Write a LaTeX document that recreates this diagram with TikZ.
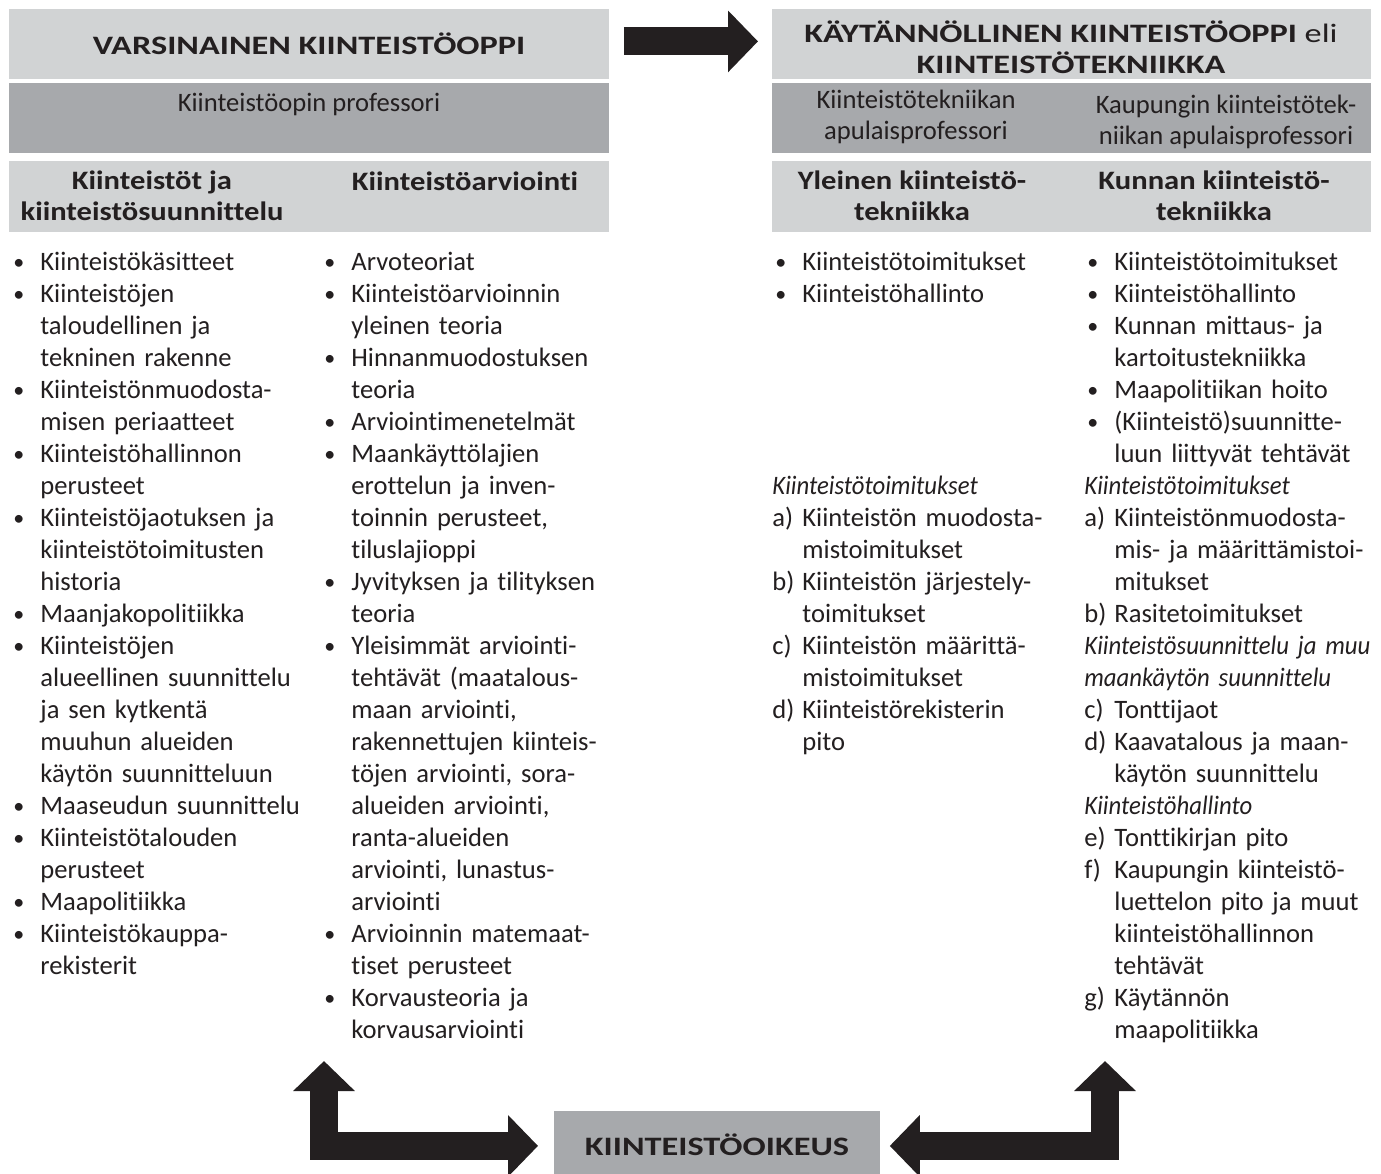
\documentclass[tikz,border=0pt]{standalone}
\usepackage{fontspec}
\setmainfont{Carlito}[Ligatures=NoCommon, BoldFeatures={FakeStretch=1.15}, ItalicFeatures={FakeStretch=0.93}]
\newfontfamily\capsfont{Carlito}[Ligatures=NoCommon, FakeStretch=1.29]
\usetikzlibrary{arrows.meta}
\definecolor{lightg}{HTML}{D1D3D4}
\definecolor{darkg}{HTML}{A7A9AC}
\definecolor{ink}{HTML}{231F20}
\setlength{\parindent}{0pt}
\newcommand{\bul}{\makebox[15pt][l]{\hspace{1.5pt}\raisebox{0.6pt}{\fontsize{11}{11}\selectfont\textbullet}}}
\newcommand{\itm}[1]{\makebox[15pt][l]{#1}}
\newcommand{\ind}{\hspace*{15pt}}
\tikzset{
  band/.style={fill=lightg, inner sep=0pt, anchor=north west},
  pband/.style={fill=darkg, inner sep=0pt, anchor=north west},
  ttl/.style={font=\capsfont\bfseries\fontsize{13.3}{15.5}\selectfont, text=ink, align=center, inner sep=0pt},
  hd/.style={font=\bfseries\fontsize{13.3}{15.5}\selectfont, text=ink, align=center, inner sep=0pt},
  lbl/.style={font=\fontsize{13.3}{15.5}\selectfont, text=ink, align=center, inner sep=0pt},
  col/.style={font=\fontsize{13.3}{16}\selectfont, text=ink, anchor=north west, inner sep=0pt,
              align=left, text width=180pt},
  fat/.style={draw=ink, line width=14pt, -{Triangle[length=15pt, width=30pt]}},
  fatboth/.style={fat, {Triangle[length=15pt, width=30pt]}-{Triangle[length=15pt, width=30pt]}},
}

\begin{document}
\begin{tikzpicture}[x=0.5pt, y=-0.5pt]
\path[fill=white] (0,0) rectangle (1381,1173);
\useasboundingbox (0,0) rectangle (1381,1173);

% ---------------- varsinainen kiinteistöoppi ----------------
\node[band, minimum width=300pt, minimum height=35pt] (varh) at (9,9) {};
\node[ttl] (vart) at (309,44) {VARSINAINEN KIINTEISTÖOPPI};
\node[pband, minimum width=300pt, minimum height=35pt] (proL) at (9,83) {};
\node[lbl] (proLt) at (309,104) {Kiinteistöopin professori};
\node[band, minimum width=300pt, minimum height=35.5pt] (subL) at (9,161) {};
\node[hd] (subLa) at (152,196) {Kiinteistöt ja\\kiinteistösuunnittelu};
\node[hd] (subLb) at (465,181) {Kiinteistöarviointi};

% ---------------- käytännöllinen kiinteistöoppi ----------------
\node[band, minimum width=299.5pt, minimum height=35pt] (kayh) at (772,9) {};
\node[ttl] (kayt) at (1071,47) {KÄYTÄNNÖLLINEN KIINTEISTÖOPPI {\mdseries eli}\\KIINTEISTÖTEKNIIKKA};
\node[pband, minimum width=299.5pt, minimum height=35pt] (proR) at (772,83) {};
\node[lbl] (proRa) at (916,117) {Kiinteistötekniikan\\apulaisprofessori};
\node[lbl] (proRb) at (1226,122) {Kaupungin kiinteistötek-\\niikan apulaisprofessori};
\node[band, minimum width=299.5pt, minimum height=35.5pt] (subR) at (772,161) {};
\node[hd] (subRa) at (912,196) {Yleinen kiinteistö-\\tekniikka};
\node[hd] (subRb) at (1214,196) {Kunnan kiinteistö-\\tekniikka};

\draw[fat, shorten <=7pt, shorten >=7pt] ([yshift=1.5pt]varh.east) -- ([yshift=1.5pt]kayh.west);

% ---------------- columns ----------------
\node[col] (colA) at (10,247.6) {\strut\bul Kiinteistökäsitteet\\
\bul Kiinteistöjen\\
\ind taloudellinen ja\\
\ind tekninen rakenne\\
\bul Kiinteistönmuodosta-\\
\ind misen periaatteet\\
\bul Kiinteistöhallinnon\\
\ind perusteet\\
\bul Kiinteistöjaotuksen ja\\
\ind kiinteistötoimitusten\\
\ind historia\\
\bul Maanjakopolitiikka\\
\bul Kiinteistöjen\\
\ind alueellinen suunnittelu\\
\ind ja sen kytkentä\\
\ind muuhun alueiden\\
\ind käytön suunnitteluun\\
\bul Maaseudun suunnittelu\\
\bul Kiinteistötalouden\\
\ind perusteet\\
\bul Maapolitiikka\\
\bul Kiinteistökauppa-\\
\ind rekisterit};

\node[col] (colB) at (321,247.6) {\strut\bul Arvoteoriat\\
\bul Kiinteistöarvioinnin\\
\ind yleinen teoria\\
\bul Hinnanmuodostuksen\\
\ind teoria\\
\bul Arviointimenetelmät\\
\bul Maankäyttölajien\\
\ind erottelun ja inven-\\
\ind toinnin perusteet,\\
\ind tiluslajioppi\\
\bul Jyvityksen ja tilityksen\\
\ind teoria\\
\bul Yleisimmät arviointi-\\
\ind tehtävät (maatalous-\\
\ind maan arviointi,\\
\ind rakennettujen kiinteis-\\
\ind töjen arviointi, sora-\\
\ind alueiden arviointi,\\
\ind ranta-alueiden\\
\ind arviointi, lunastus-\\
\ind arviointi\\
\bul Arvioinnin matemaat-\\
\ind tiset perusteet\\
\bul Korvausteoria ja\\
\ind korvausarviointi};

\node[col] (colC) at (772,247.6) {\strut\bul Kiinteistötoimitukset\\
\bul Kiinteistöhallinto};
\node[col] (colCi) at (772,471.6) {\strut\textit{Kiinteistötoimitukset}\\
\itm{a)}Kiinteistön muodosta-\\
\ind mistoimitukset\\
\itm{b)}Kiinteistön järjestely-\\
\ind toimitukset\\
\itm{c)}Kiinteistön määrittä-\\
\ind mistoimitukset\\
\itm{d)}Kiinteistörekisterin\\
\ind pito};

\node[col] (colD) at (1084,247.6) {\strut\bul Kiinteistötoimitukset\\
\bul Kiinteistöhallinto\\
\bul Kunnan mittaus- ja\\
\ind kartoitustekniikka\\
\bul Maapolitiikan hoito\\
\bul (Kiinteistö)suunnitte-\\
\ind luun liittyvät tehtävät\\
\textit{Kiinteistötoimitukset}\\
\itm{a)}Kiinteistönmuodosta-\\
\ind mis- ja määrittämistoi-\\
\ind mitukset\\
\itm{b)}Rasitetoimitukset\\
\textit{Kiinteistösuunnittelu ja muu}\\
\textit{maankäytön suunnittelu}\\
\itm{c)}Tonttijaot\\
\itm{d)}Kaavatalous ja maan-\\
\ind käytön suunnittelu\\
\textit{Kiinteistöhallinto}\\
\itm{e)}Tonttikirjan pito\\
\itm{f)}Kaupungin kiinteistö-\\
\ind luettelon pito ja muut\\
\ind kiinteistöhallinnon\\
\ind tehtävät\\
\itm{g)}Käytännön\\
\ind maapolitiikka};

% ---------------- kiinteistöoikeus ----------------
\node[pband, minimum width=163pt, minimum height=31.5pt] (oik) at (554,1111) {};
\node[ttl] (oikt) at (717,1145) {KIINTEISTÖOIKEUS};
\coordinate (lup) at (324,1061);
\coordinate (rup) at (1105,1061);
\draw[fatboth, shorten >=8pt] (lup) |- ([yshift=-1.5pt]oik.west);
\draw[fatboth, shorten >=4.5pt] (rup) |- ([yshift=-1.5pt]oik.east);

\end{tikzpicture}
\end{document}
